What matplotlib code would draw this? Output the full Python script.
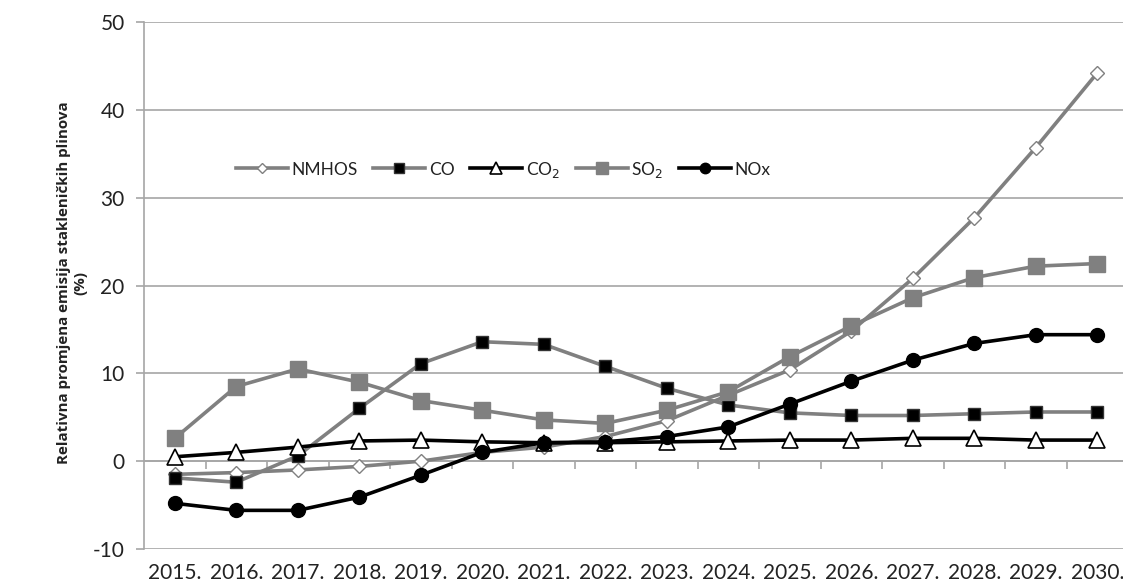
import matplotlib
matplotlib.use("Agg")
import matplotlib.pyplot as plt
from matplotlib import transforms

plt.rcParams['font.family'] = ['Lato', 'DejaVu Sans']
plt.rcParams['axes.unicode_minus'] = False

years = list(range(2015, 2031))
year_labels = [f"{y}." for y in years]

nmhos = [-1.5, -1.3, -1.0, -0.6, 0.0, 1.0, 1.6, 2.8, 4.6, 7.5, 10.4, 14.8, 20.8, 27.7, 35.7, 44.2]
co    = [-1.9, -2.4, 0.6, 6.0, 11.1, 13.6, 13.3, 10.8, 8.3, 6.4, 5.5, 5.2, 5.2, 5.4, 5.6, 5.6]
co2   = [0.5, 1.0, 1.6, 2.3, 2.4, 2.2, 2.1, 2.1, 2.2, 2.3, 2.4, 2.4, 2.6, 2.6, 2.4, 2.4]
so2   = [2.6, 8.5, 10.5, 9.0, 6.9, 5.8, 4.7, 4.3, 5.8, 7.9, 11.9, 15.4, 18.6, 20.9, 22.2, 22.5]
nox   = [-4.8, -5.6, -5.6, -4.1, -1.6, 1.0, 2.1, 2.2, 2.8, 3.9, 6.5, 9.1, 11.5, 13.4, 14.4, 14.4]

GRAY = '#808080'
GRID = '#a6a6a6'
TXT = '#222222'

fig = plt.figure(figsize=(11.23, 5.88), dpi=100)
ax = fig.add_axes([144/1123, 1-549/588, 984/1123, 527/588])

lw = 2.6
ax.plot(years, nmhos, color=GRAY, lw=lw, marker='D', ms=7, mfc='white', mec=GRAY, mew=1.0, label='NMHOS', zorder=3)
ax.plot(years, co, color=GRAY, lw=lw, marker='s', ms=9, mfc='black', mec='#333333', mew=1.0, label='CO', zorder=4)
ax.plot(years, co2, color='black', lw=lw, marker='^', ms=11, mfc='white', mec='black', mew=1.2, label='CO$_2$', zorder=5)
ax.plot(years, so2, color=GRAY, lw=lw, marker='s', ms=12, mfc=GRAY, mec=GRAY, mew=1.0, label='SO$_2$', zorder=6)
ax.plot(years, nox, color='black', lw=lw, marker='o', ms=10, mfc='black', mec='black', label='NOx', zorder=7)

ax.set_xlim(2014.5, 2030.5)
ax.set_ylim(-10, 50)
ax.set_yticks(range(-10, 51, 10))
ax.yaxis.grid(True, color=GRID, lw=1.2)
ax.set_axisbelow(True)

for s in ['top', 'right']:
    ax.spines[s].set_visible(False)
ax.spines['left'].set_color(GRID)
ax.spines['left'].set_linewidth(1.2)
ax.spines['bottom'].set_position(('data', 0))
ax.spines['bottom'].set_color(GRID)
ax.spines['bottom'].set_linewidth(1.2)

ax.set_xticks([y + 0.5 for y in years[:-1]])
ax.set_xticklabels([])
ax.tick_params(axis='x', direction='out', length=6, color=GRID, width=1.2)
ax.tick_params(axis='y', direction='out', length=6, color=GRID, width=1.2, labelsize=15, pad=8, labelcolor=TXT)

trans = transforms.blended_transform_factory(ax.transData, ax.transAxes)
for y, lab in zip(years, year_labels):
    ax.text(y, -0.045, lab, transform=trans, ha='center', va='center', fontsize=15, color=TXT)

fig.text(72/1123, 1-283/588, "Relativna promjena emisija stakleničkih plinova\n(%)",
         rotation=90, ha='center', va='center', multialignment='center',
         fontsize=10.9, fontweight='bold', family=['Open Sans', 'DejaVu Sans'],
         color=TXT, linespacing=1.2)

leg = ax.legend(loc='center', bbox_to_anchor=(0.365, 0.72), ncol=5, frameon=False,
                fontsize=12.5, handlelength=3.0, columnspacing=0.9, handletextpad=0.2,
                markerscale=0.75)
for t in leg.get_texts():
    t.set_color(TXT)

fig.savefig('out.png', dpi=100)
